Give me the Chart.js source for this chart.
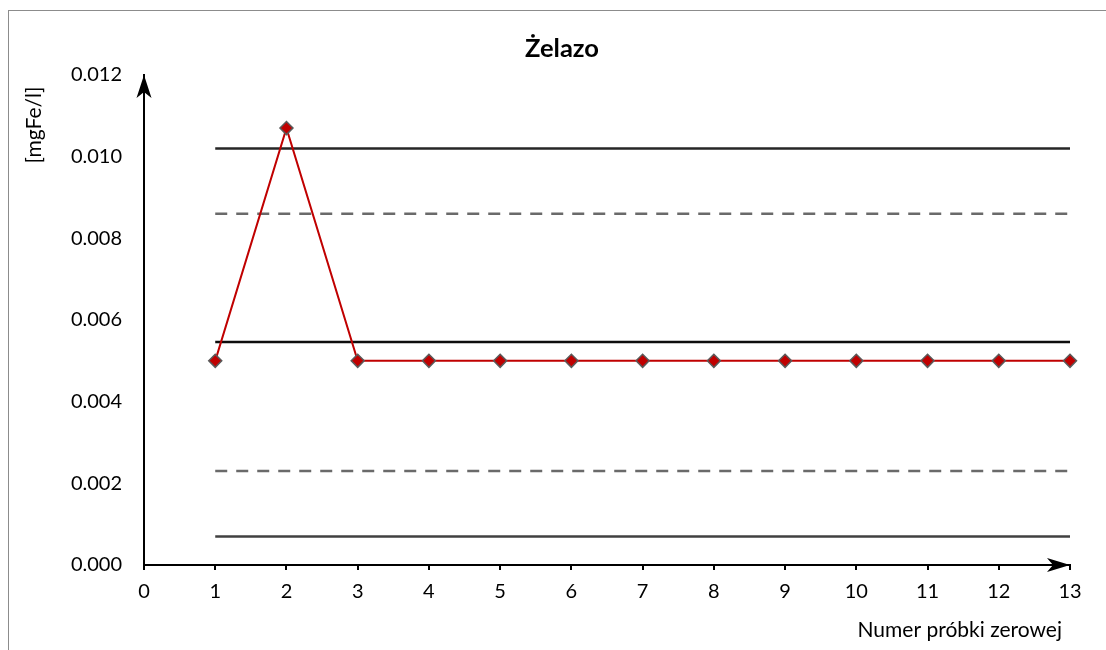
<!DOCTYPE html>
<html lang="pl">
<head>
<meta charset="utf-8">
<title>Żelazo</title>
<script src="https://cdn.jsdelivr.net/npm/chart.js@4.4.0/dist/chart.umd.min.js"></script>
<style>
    html, body { margin: 0; padding: 0; background: #fff; }
    #wrap { width: 1106px; height: 650px; }
</style>
</head>
<body>
<div id="wrap"><canvas id="chart" width="1106" height="650"></canvas></div>
<script>
// numery próbek zerowych
const probki = [1, 2, 3, 4, 5, 6, 7, 8, 9, 10, 11, 12, 13];
// wyniki oznaczeń [mgFe/l]
const wyniki = [0.005, 0.0107, 0.005, 0.005, 0.005, 0.005, 0.005, 0.005, 0.005, 0.005, 0.005, 0.005, 0.005];

// linie karty kontrolnej
const gornaDzialania = 0.0102;
const gornaOstrzegawcza = 0.0086;
const srednia = 0.00546;
const dolnaOstrzegawcza = 0.0023;
const dolnaDzialania = 0.0007;

// zakres osi
const osX = [0, 13];
const osY = [0, 0.012];
const krokY = 0.002;

const tytulX = 'Numer próbki zerowej';
const tytulY = '[mgFe/l]';

const FONT = 'Lato, "Open Sans", sans-serif';

// linia pozioma od pierwszej do ostatniej próbki
function linia(wartosc) {
    return [
        { x: probki[0], y: wartosc },
        { x: probki[probki.length - 1], y: wartosc }
    ];
}

function grot(ctx, x, y, kierunek) {
    ctx.save();
    ctx.fillStyle = '#000';
    ctx.beginPath();
    if (kierunek === 'up') {
        ctx.moveTo(x, y);
        ctx.lineTo(x + 7.5, y + 23);
        ctx.lineTo(x, y + 17);
        ctx.lineTo(x - 7.5, y + 23);
    } else {
        ctx.moveTo(x, y);
        ctx.lineTo(x - 23, y - 7);
        ctx.lineTo(x - 17, y);
        ctx.lineTo(x - 23, y + 7);
    }
    ctx.closePath();
    ctx.fill();
    ctx.restore();
}

// ramka wykresu, strzałki i opisy osi
const ramkaIStrzalki = {
    id: 'ramkaIStrzalki',
    beforeDraw(chart) {
        const ctx = chart.ctx;
        ctx.save();
        ctx.strokeStyle = '#8c8c8c';
        ctx.lineWidth = 1;
        ctx.strokeRect(8.5, 10.5, 1300, 800);
        ctx.restore();
    },
    afterDraw(chart) {
        const ctx = chart.ctx;
        const { left, right, top, bottom } = chart.chartArea;
        grot(ctx, left, top, 'up');
        grot(ctx, right, bottom, 'right');

        ctx.save();
        ctx.fillStyle = '#000';
        ctx.font = '21px ' + FONT;
        ctx.textBaseline = 'middle';
        // opis osi X, wyrównany do prawej
        ctx.textAlign = 'right';
        ctx.fillText(tytulX, right - 8, 630);
        // opis osi Y, pionowo
        ctx.translate(34, 125);
        ctx.rotate(-Math.PI / 2);
        ctx.textAlign = 'center';
        ctx.fillText(tytulY, 0, 0);
        ctx.restore();
    }
};

const liniaKontrolna = (wartosc, kolor, przerywana) => ({
    data: linia(wartosc),
    borderColor: kolor,
    borderWidth: 2.5,
    borderDash: przerywana ? [12, 9] : [],
    borderCapStyle: 'butt',
    pointRadius: 0,
    clip: false
});

new Chart(document.getElementById('chart'), {
    type: 'line',
    data: {
        datasets: [
            {
                data: probki.map((p, i) => ({ x: p, y: wyniki[i] })),
                borderColor: '#c00000',
                borderWidth: 2,
                pointStyle: 'rectRot',
                pointRadius: 6.5,
                pointBackgroundColor: '#c00000',
                pointBorderColor: '#5a5a5a',
                pointBorderWidth: 1.5,
                clip: false
            },
            liniaKontrolna(gornaDzialania, '#262626', false),
            liniaKontrolna(gornaOstrzegawcza, '#6a6a6a', true),
            liniaKontrolna(srednia, '#0d0d0d', false),
            liniaKontrolna(dolnaOstrzegawcza, '#6a6a6a', true),
            liniaKontrolna(dolnaDzialania, '#404040', false)
        ]
    },
    options: {
        responsive: false,
        animation: false,
        layout: { padding: { left: 18, right: 0, top: 0, bottom: 0 } },
        plugins: {
            legend: { display: false },
            tooltip: { enabled: false },
            title: {
                display: true,
                text: 'Żelazo',
                color: '#000',
                font: { family: FONT, size: 25.5, weight: 'bold' },
                padding: { top: 33.7, bottom: 10.7 }
            }
        },
        scales: {
            x: {
                type: 'linear',
                min: osX[0],
                max: osX[1],
                afterFit(scale) { scale.height = 85; },
                ticks: {
                    stepSize: 1,
                    color: '#000',
                    padding: 10,
                    font: { family: FONT, size: 20 }
                },
                grid: {
                    drawOnChartArea: false,
                    drawTicks: true,
                    tickLength: 5,
                    color: '#000',
                    lineWidth: 2
                },
                border: { display: true, color: '#000', width: 2 }
            },
            y: {
                min: osY[0],
                max: osY[1],
                afterFit(scale) { scale.width = 126; },
                ticks: {
                    stepSize: krokY,
                    color: '#000',
                    padding: 22,
                    font: { family: FONT, size: 20 },
                    callback: v => v.toFixed(3)
                },
                grid: { display: false, drawTicks: false },
                border: { display: true, color: '#000', width: 2 }
            },
            // pusta oś po prawej, tylko żeby zostawić margines
            prawa: {
                position: 'right',
                display: true,
                afterFit(scale) { scale.width = 36; },
                ticks: { display: false },
                grid: { display: false, drawTicks: false },
                border: { display: false }
            }
        }
    },
    plugins: [ramkaIStrzalki]
});
</script>
</body>
</html>
